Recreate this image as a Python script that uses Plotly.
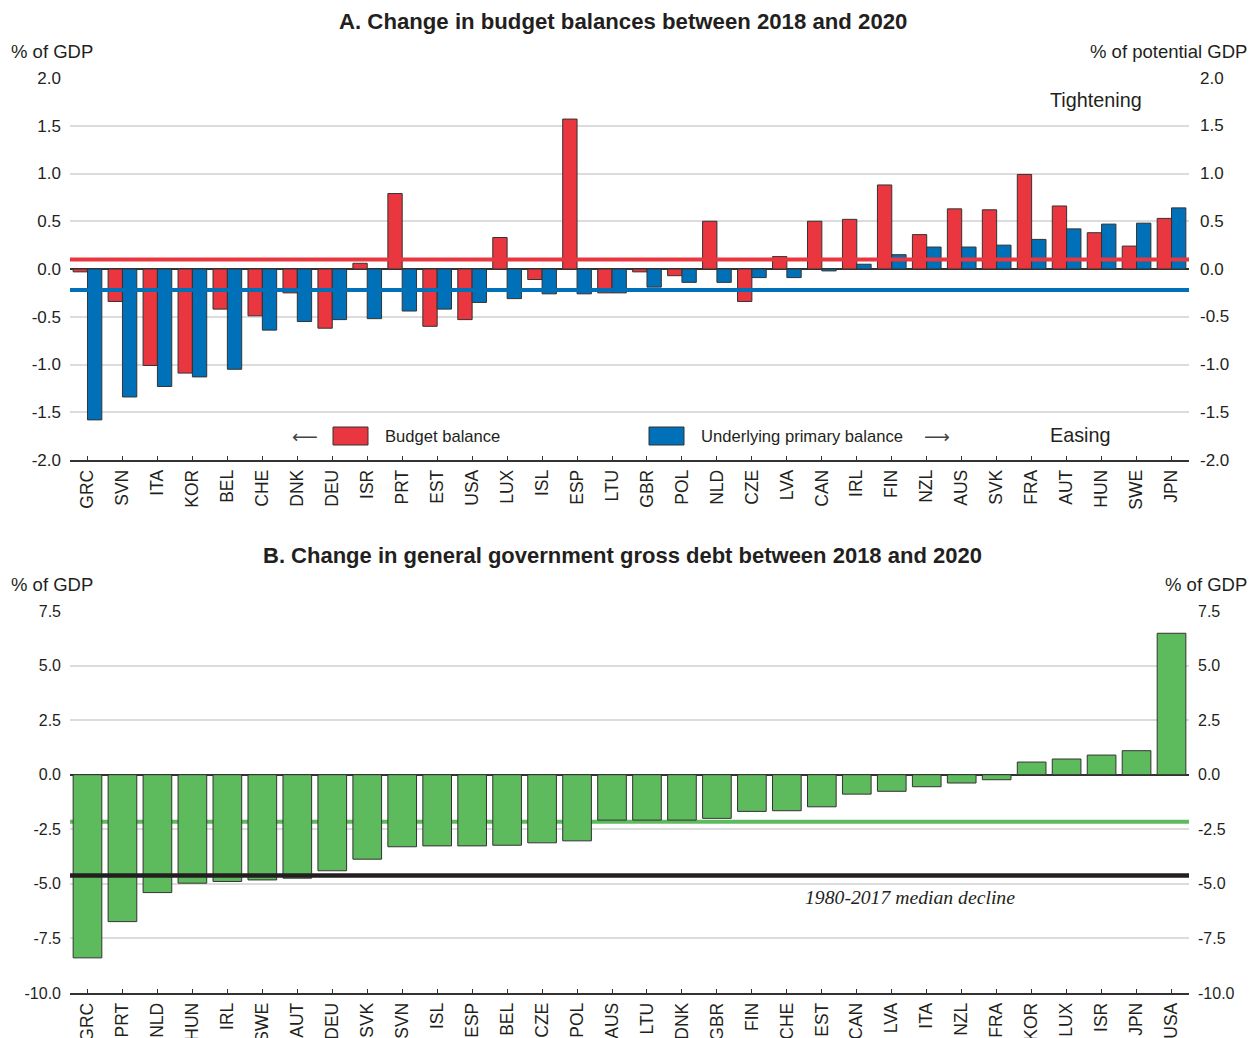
import plotly.graph_objects as go

# ---------------- Panel A: change in budget balances, 2018-2020 ----------------
countries_a = ["GRC", "SVN", "ITA", "KOR", "BEL", "CHE", "DNK", "DEU", "ISR", "PRT",
               "EST", "USA", "LUX", "ISL", "ESP", "LTU", "GBR", "POL", "NLD", "CZE",
               "LVA", "CAN", "IRL", "FIN", "NZL", "AUS", "SVK", "FRA", "AUT", "HUN",
               "SWE", "JPN"]
budget_balance = [-0.03, -0.34, -1.01, -1.09, -0.42, -0.49, -0.25, -0.62, 0.06, 0.79,
                  -0.60, -0.53, 0.33, -0.11, 1.57, -0.25, -0.03, -0.07, 0.50, -0.34,
                  0.13, 0.50, 0.52, 0.88, 0.36, 0.63, 0.62, 0.99, 0.66, 0.38,
                  0.24, 0.53]
underlying_primary = [-1.58, -1.34, -1.23, -1.13, -1.05, -0.64, -0.55, -0.53, -0.52, -0.44,
                      -0.42, -0.35, -0.31, -0.26, -0.26, -0.25, -0.19, -0.14, -0.14, -0.09,
                      -0.09, -0.02, 0.05, 0.15, 0.23, 0.23, 0.25, 0.31, 0.42, 0.47,
                      0.48, 0.64]
avg_budget_balance = 0.10
avg_underlying_primary = -0.22
ticks_a = [-2.0, -1.5, -1.0, -0.5, 0.0, 0.5, 1.0, 1.5, 2.0]
tick_text_a = ["-2.0", "-1.5", "-1.0", "-0.5", "0.0", "0.5", "1.0", "1.5", "2.0"]

# ---------------- Panel B: change in gross government debt, 2018-2020 ----------------
countries_b = ["GRC", "PRT", "NLD", "HUN", "IRL", "SWE", "AUT", "DEU", "SVK", "SVN",
               "ISL", "ESP", "BEL", "CZE", "POL", "AUS", "LTU", "DNK", "GBR", "FIN",
               "CHE", "EST", "CAN", "LVA", "ITA", "NZL", "FRA", "KOR", "LUX", "ISR",
               "JPN", "USA"]
debt_change = [-8.39, -6.73, -5.40, -4.97, -4.89, -4.82, -4.74, -4.40, -3.87, -3.30,
               -3.26, -3.26, -3.23, -3.12, -3.03, -2.08, -2.08, -2.08, -2.00, -1.68,
               -1.65, -1.47, -0.89, -0.76, -0.55, -0.38, -0.23, 0.58, 0.72, 0.90,
               1.10, 6.48]
avg_debt_change = -2.15
median_decline_1980_2017 = -4.62
ticks_b = [-10.0, -7.5, -5.0, -2.5, 0.0, 2.5, 5.0, 7.5]
tick_text_b = ["-10.0", "-7.5", "-5.0", "-2.5", "0.0", "2.5", "5.0", "7.5"]

RED = "#E9363F"
BLUE = "#0071B9"
GREEN = "#5DBB5D"
BLACK = "#231F20"
TEXT = "#231F20"
GRID = "#DCDCDC"
EDGE = "#333333"
FONT = "Liberation Sans, Arial, sans-serif"

W, H = 1250, 1038


def fx(px):
    return px / W


def fy(py):
    return 1 - py / H


X_DOMAIN = [fx(70), fx(1189)]
TICK_A = 17
TICK_B = 16

fig = go.Figure()

fig.add_trace(go.Bar(x=countries_a, y=budget_balance, name="Budget balance",
                     marker=dict(color=RED, line=dict(color=EDGE, width=1)),
                     xaxis="x", yaxis="y", showlegend=False))
fig.add_trace(go.Bar(x=countries_a, y=underlying_primary, name="Underlying primary balance",
                     marker=dict(color=BLUE, line=dict(color=EDGE, width=1)),
                     xaxis="x", yaxis="y", showlegend=False))
fig.add_trace(go.Bar(x=countries_b, y=debt_change, name="Change in gross debt",
                     marker=dict(color=GREEN, line=dict(color=EDGE, width=1)),
                     xaxis="x2", yaxis="y2", showlegend=False))

xaxis_common = dict(
    domain=X_DOMAIN, range=[-0.5, 31.5], type="category", tickangle=-90,
    ticks="inside", ticklen=4, tickcolor=EDGE, tickwidth=1, showline=True,
    linecolor=EDGE, linewidth=1.5, showgrid=False, zeroline=False, automargin=False,
    ticklabelstandoff=1,
    tickfont=dict(family=FONT, size=17.5, color=TEXT),
)
yleft_common = dict(
    showgrid=True, gridcolor=GRID, gridwidth=1.5, zeroline=True, zerolinecolor=EDGE,
    zerolinewidth=1.5, ticks="", automargin=False, showline=False, ticklabelstandoff=8,
)

fig.update_layout(
    width=W, height=H,
    margin=dict(l=0, r=0, t=0, b=0),
    paper_bgcolor="white", plot_bgcolor="white",
    barmode="group", bargap=0.18, bargroupgap=0,
    font=dict(family=FONT, color=TEXT),
    xaxis=dict(anchor="y", **xaxis_common),
    xaxis2=dict(anchor="y2", **xaxis_common),
    yaxis=dict(domain=[fy(460), fy(78)], range=[-2, 2], anchor="x",
               tickvals=ticks_a, ticktext=tick_text_a,
               tickfont=dict(family=FONT, size=TICK_A, color=TEXT), **yleft_common),
    yaxis2=dict(domain=[fy(993), fy(611)], range=[-10, 7.5], anchor="x2",
                tickvals=ticks_b, ticktext=tick_text_b,
                tickfont=dict(family=FONT, size=TICK_B, color=TEXT), **yleft_common),
)

# Reference lines (averages and historical median)
shapes = [
    dict(type="line", xref="x", yref="y", x0=-0.5, x1=31.5,
         y0=avg_budget_balance, y1=avg_budget_balance,
         line=dict(color=RED, width=4), layer="above"),
    dict(type="line", xref="x", yref="y", x0=-0.5, x1=31.5,
         y0=avg_underlying_primary, y1=avg_underlying_primary,
         line=dict(color=BLUE, width=4), layer="above"),
    dict(type="line", xref="x2", yref="y2", x0=-0.5, x1=31.5,
         y0=avg_debt_change, y1=avg_debt_change,
         line=dict(color=GREEN, width=4), layer="between"),
    dict(type="line", xref="x2", yref="y2", x0=-0.5, x1=31.5,
         y0=median_decline_1980_2017, y1=median_decline_1980_2017,
         line=dict(color=BLACK, width=4.5), layer="above"),
    # legend swatches
    dict(type="rect", xref="paper", yref="paper", x0=fx(333), x1=fx(368),
         y0=fy(445), y1=fy(427), fillcolor=RED, line=dict(color=EDGE, width=1)),
    dict(type="rect", xref="paper", yref="paper", x0=fx(649), x1=fx(684),
         y0=fy(445), y1=fy(427), fillcolor=BLUE, line=dict(color=EDGE, width=1)),
]
fig.update_layout(shapes=shapes)


def label(text, x, y, xanchor="left", size=17, **kw):
    return dict(text=text, xref="paper", yref="paper", x=fx(x), y=fy(y),
                xanchor=xanchor, yanchor="middle", showarrow=False,
                font=dict(family=kw.pop("family", FONT), size=size,
                          color=kw.pop("color", TEXT)), **kw)


annotations = [
    label("<b>A. Change in budget balances between 2018 and 2020</b>", 623, 22,
          xanchor="center", size=22.2),
    label("% of GDP", 9, 51, size=18.5),
    label("% of potential GDP", 1249, 51, xanchor="right", size=18.5),
    label("Tightening", 1048, 100, size=19.8),
    label("Easing", 1048, 435, size=19.8),
    label("\u27f5", 305, 436, xanchor="center", size=18,
          family="DejaVu Sans, sans-serif", color="#444444"),
    label("Budget balance", 383, 436, size=16.6),
    label("Underlying primary balance", 699, 436, size=16.6),
    label("\u27f6", 937, 436, xanchor="center", size=18,
          family="DejaVu Sans, sans-serif", color="#444444"),
    label("<b>B. Change in general government gross debt between 2018 and 2020</b>",
          622, 555, xanchor="center", size=22),
    label("% of GDP", 9, 584, size=18.5),
    label("% of GDP", 1249, 584, xanchor="right", size=18.5),
    label("<i>1980-2017 median decline</i>", 910, 897, xanchor="center", size=19.7,
          family="Liberation Serif, Times New Roman, serif"),
]

# Right-hand scale labels, repeating the left-hand tick values
for val, txt in zip(ticks_a, tick_text_a):
    annotations.append(dict(text=txt, xref="paper", yref="y", x=fx(1198), y=val,
                            xanchor="left", yanchor="middle", showarrow=False,
                            font=dict(family=FONT, size=TICK_A, color=TEXT)))
for val, txt in zip(ticks_b, tick_text_b):
    annotations.append(dict(text=txt, xref="paper", yref="y2", x=fx(1196), y=val,
                            xanchor="left", yanchor="middle", showarrow=False,
                            font=dict(family=FONT, size=TICK_B, color=TEXT)))

fig.update_layout(annotations=annotations)

fig.write_html("out.html")
